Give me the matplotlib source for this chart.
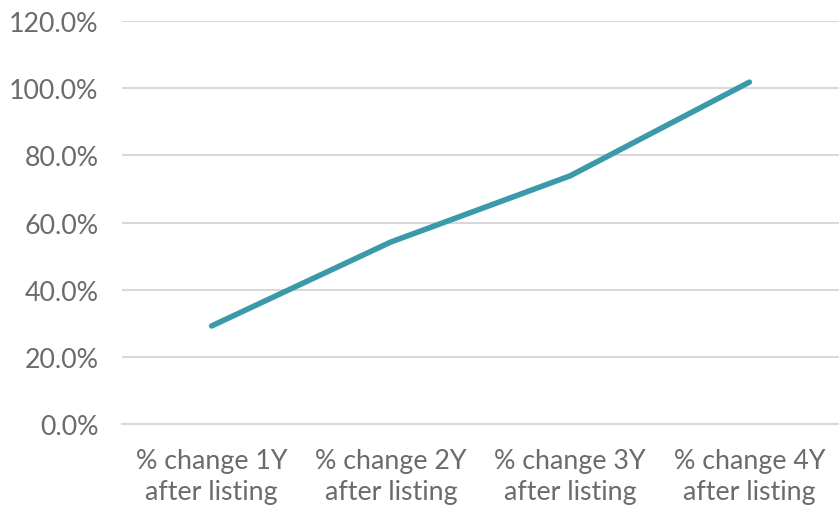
import matplotlib.pyplot as plt
from matplotlib.ticker import FuncFormatter

categories = ["% change 1Y\nafter listing", "% change 2Y\nafter listing",
              "% change 3Y\nafter listing", "% change 4Y\nafter listing"]
values = [29.2, 54.2, 73.9, 101.8]

plt.rcParams['font.family'] = ['Lato', 'DejaVu Sans']

fig = plt.figure(figsize=(8.39, 5.06), dpi=100)
ax = fig.add_axes([0.1454, 0.160, 0.8546, 0.7965])

x = list(range(len(categories)))
ax.plot(x, values, color="#3A9AAA", linewidth=4.0, solid_capstyle="round", zorder=3)

ax.set_xlim(-0.5, len(categories) - 0.5)
ax.set_ylim(0, 120)
ax.set_yticks(range(0, 121, 20))
ax.yaxis.set_major_formatter(FuncFormatter(lambda v, p: f"{v:.1f}%"))
ax.set_xticks(x)
ax.set_xticklabels(categories)

ax.grid(axis="y", color="#D9D9D9", linewidth=1.5)
ax.set_axisbelow(True)
for s in ["top", "right", "left"]:
    ax.spines[s].set_visible(False)
ax.spines["bottom"].set_color("#D9D9D9")
ax.spines["bottom"].set_linewidth(1.5)

ax.tick_params(axis="both", length=0, labelsize=19.3, labelcolor="#6b6b6b")
ax.tick_params(axis="y", pad=17)
ax.tick_params(axis="x", pad=17)
for lab in ax.get_xticklabels():
    lab.set_linespacing(1.32)

fig.savefig("out.png", dpi=100)
